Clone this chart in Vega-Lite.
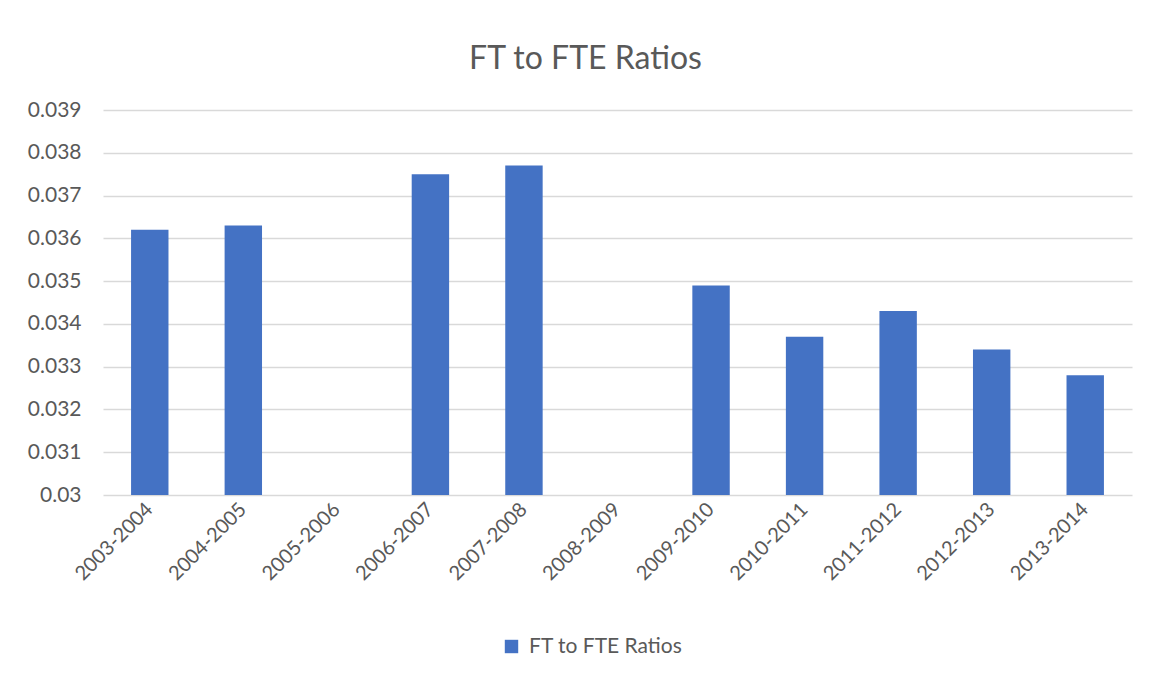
{
  "$schema": "https://vega.github.io/schema/vega-lite/v6.json",
  "width": 1029,
  "height": 385,
  "autosize": {"type": "none"},
  "padding": {"left": 103, "top": 110, "right": 17, "bottom": 182},
  "background": "white",
  "title": {"text": "FT to FTE Ratios", "font": "Lato", "fontSize": 32, "fontWeight": "normal", "color": "#595959", "anchor": "middle", "dx": -32, "offset": 23},
  "data": {"values": [
    {"period": "2003-2004", "ratio": 0.0362, "series": "FT to FTE Ratios"},
    {"period": "2004-2005", "ratio": 0.0363, "series": "FT to FTE Ratios"},
    {"period": "2005-2006", "ratio": null, "series": "FT to FTE Ratios"},
    {"period": "2006-2007", "ratio": 0.0375, "series": "FT to FTE Ratios"},
    {"period": "2007-2008", "ratio": 0.0377, "series": "FT to FTE Ratios"},
    {"period": "2008-2009", "ratio": null, "series": "FT to FTE Ratios"},
    {"period": "2009-2010", "ratio": 0.0349, "series": "FT to FTE Ratios"},
    {"period": "2010-2011", "ratio": 0.0337, "series": "FT to FTE Ratios"},
    {"period": "2011-2012", "ratio": 0.0343, "series": "FT to FTE Ratios"},
    {"period": "2012-2013", "ratio": 0.0334, "series": "FT to FTE Ratios"},
    {"period": "2013-2014", "ratio": 0.0328, "series": "FT to FTE Ratios"}
  ]},
  "mark": {"type": "bar"},
  "encoding": {
    "x": {
      "field": "period", "type": "nominal", "sort": null,
      "scale": {"domain": ["2003-2004","2004-2005","2005-2006","2006-2007","2007-2008","2008-2009","2009-2010","2010-2011","2011-2012","2012-2013","2013-2014"], "paddingInner": 0.6, "paddingOuter": 0.3},
      "axis": {"title": null, "labelAngle": -45, "labelAlign": "right", "labelBaseline": "middle", "labelPadding": 11, "domain": false, "ticks": false, "labelFont": "Lato", "labelFontSize": 20, "labelColor": "#595959"}
    },
    "y": {
      "field": "ratio", "type": "quantitative",
      "scale": {"domain": [0.03, 0.039], "zero": false, "nice": false},
      "axis": {"title": null, "values": [0.03,0.031,0.032,0.033,0.034,0.035,0.036,0.037,0.038,0.039], "labelExpr": "datum.value == 0.03 ? '0.03' : format(datum.value, '.3f')", "domain": false, "ticks": false, "labelPadding": 22, "gridColor": "#D9D9D9", "gridWidth": 1.3, "labelFont": "Lato", "labelFontSize": 21, "labelColor": "#595959"}
    },
    "y2": {"datum": 0.03},
    "color": {
      "field": "series", "type": "nominal",
      "scale": {"range": ["#4472C4"]},
      "legend": {"title": null, "orient": "none", "legendX": 398, "legendY": 526, "symbolType": "square", "symbolSize": 180, "symbolStrokeWidth": 0, "labelFont": "Lato", "labelFontSize": 21, "labelColor": "#595959", "labelOffset": 7}
    }
  },
  "config": {"view": {"stroke": null}}
}
